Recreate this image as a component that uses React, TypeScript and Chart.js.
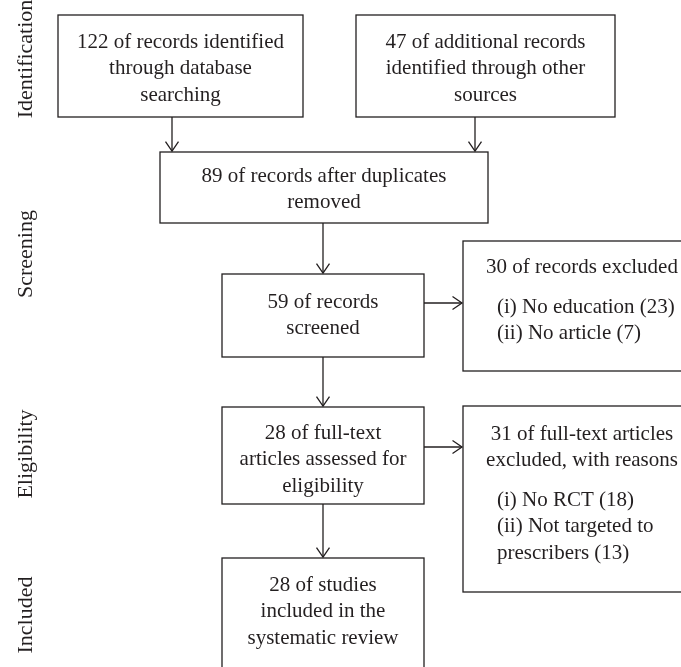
import React, { useEffect, useRef } from "react";
import { Chart, registerables } from "chart.js";

Chart.register(...registerables);

// ---- content ----
const stageLabels = ["Identification", "Screening", "Eligibility", "Included"];
const stageCentersY = [59, 254, 454, 615];

const recordCounts = [122, 47, 89, 59, 30, 28, 31, 28];

const boxTexts: string[][] = [
  [`${recordCounts[0]} of records identified`, "through database", "searching"],
  [`${recordCounts[1]} of additional records`, "identified through other", "sources"],
  [`${recordCounts[2]} of records after duplicates`, "removed"],
  [`${recordCounts[3]} of records`, "screened"],
  [`${recordCounts[4]} of records excluded`],
  [`${recordCounts[5]} of full-text`, "articles assessed for", "eligibility"],
  [`${recordCounts[6]} of full-text articles`, "excluded, with reasons"],
  [`${recordCounts[7]} of studies`, "included in the", "systematic review"],
];

const exclusionReasons: string[][] = [
  [],
  [],
  [],
  [],
  ["(i) No education (23)", "(ii) No article (7)"],
  [],
  ["(i) No RCT (18)", "(ii) Not targeted to", "prescribers (13)"],
  [],
];

// ---- layout (data units of a 681 x 667 coordinate space) ----
const boxLayout = [
  { x0: 58, x1: 303, y0: 15, y1: 117, textY: 42 },
  { x0: 356, x1: 615, y0: 15, y1: 117, textY: 42 },
  { x0: 160, x1: 488, y0: 152, y1: 223, textY: 176 },
  { x0: 222, x1: 424, y0: 274, y1: 357, textY: 302 },
  { x0: 463, x1: 700, y0: 241, y1: 371, textY: 267, textX: 582, reasonX: 497, reasonY: 307 },
  { x0: 222, x1: 424, y0: 407, y1: 504, textY: 433 },
  { x0: 463, x1: 700, y0: 406, y1: 592, textY: 434, textX: 582, reasonX: 497, reasonY: 500 },
  { x0: 222, x1: 424, y0: 558, y1: 700, textY: 585 },
];

const arrowLayout = [
  { x0: 172, y0: 117, x1: 172, y1: 151 },
  { x0: 475, y0: 117, x1: 475, y1: 151 },
  { x0: 323, y0: 223, x1: 323, y1: 273 },
  { x0: 424, y0: 303, x1: 462, y1: 303 },
  { x0: 323, y0: 357, x1: 323, y1: 406 },
  { x0: 424, y0: 447, x1: 462, y1: 447 },
  { x0: 323, y0: 504, x1: 323, y1: 557 },
];

const LINE_H = 26.5;
const FONT = '21px "Liberation Serif", "DejaVu Serif", serif';
const LABEL_FONT = '22px "Liberation Serif", "DejaVu Serif", serif';
const INK = "#231f20";

const flowPlugin = {
  id: "flow",
  afterDraw(chart: any) {
    const ctx: CanvasRenderingContext2D = chart.ctx;
    const xs = chart.scales.x;
    const ys = chart.scales.y;
    const px = (v: number) => xs.getPixelForValue(v);
    const py = (v: number) => ys.getPixelForValue(v);
    ctx.save();
    ctx.fillStyle = "#ffffff";
    ctx.fillRect(0, 0, chart.width, chart.height);
    ctx.strokeStyle = INK;
    ctx.fillStyle = INK;
    ctx.lineWidth = 1.3;
    ctx.font = FONT;
    ctx.textBaseline = "middle";

    boxLayout.forEach((b: any, i: number) => {
      const x0 = px(b.x0), x1 = px(b.x1), y0 = py(b.y0), y1 = py(b.y1);
      ctx.strokeRect(x0, y0, x1 - x0, y1 - y0);
      const cx = b.textX !== undefined ? px(b.textX) : (x0 + x1) / 2;
      ctx.textAlign = "center";
      boxTexts[i].forEach((t, k) => {
        ctx.fillText(t, cx, py(b.textY + k * LINE_H));
      });
      const reasons = exclusionReasons[i];
      if (reasons.length) {
        ctx.textAlign = "left";
        reasons.forEach((t, k) => {
          ctx.fillText(t, px(b.reasonX), py(b.reasonY + k * LINE_H));
        });
      }
    });

    arrowLayout.forEach((a) => {
      const x0 = px(a.x0), y0 = py(a.y0), x1 = px(a.x1), y1 = py(a.y1);
      ctx.beginPath();
      ctx.moveTo(x0, y0);
      ctx.lineTo(x1, y1);
      ctx.stroke();
      const ang = Math.atan2(y1 - y0, x1 - x0);
      const L = 11.5;
      const spread = 0.6;
      ctx.beginPath();
      ctx.moveTo(x1 - L * Math.cos(ang - spread), y1 - L * Math.sin(ang - spread));
      ctx.lineTo(x1, y1);
      ctx.lineTo(x1 - L * Math.cos(ang + spread), y1 - L * Math.sin(ang + spread));
      ctx.stroke();
    });

    ctx.textAlign = "center";
    ctx.font = LABEL_FONT;
    stageLabels.forEach((s, i) => {
      ctx.save();
      ctx.translate(px(26), py(stageCentersY[i]));
      ctx.rotate(-Math.PI / 2);
      ctx.fillText(s, 0, 0);
      ctx.restore();
    });
    ctx.restore();
  },
};

export default function App() {
  const ref = useRef<HTMLCanvasElement>(null);
  useEffect(() => {
    if (!ref.current) return;
    const chart = new Chart(ref.current, {
      type: "scatter",
      data: {
        datasets: [
          {
            data: boxLayout.map((b) => ({ x: (b.x0 + b.x1) / 2, y: (b.y0 + b.y1) / 2 })),
            pointRadius: 0,
          },
        ],
      },
      options: {
        animation: false,
        responsive: false,
        layout: { padding: 0 },
        scales: {
          x: { type: "linear", min: 0, max: 681, display: false },
          y: { type: "linear", min: 0, max: 667, reverse: true, display: false },
        },
        plugins: { legend: { display: false }, tooltip: { enabled: false } },
      },
      plugins: [flowPlugin],
    });
    return () => chart.destroy();
  }, []);
  return (
    <div style={{ position: "fixed", left: 0, top: 0, width: 681, height: 667, background: "#fff" }}>
      <canvas ref={ref} width={681} height={667} style={{ width: 681, height: 667 }} />
    </div>
  );
}
